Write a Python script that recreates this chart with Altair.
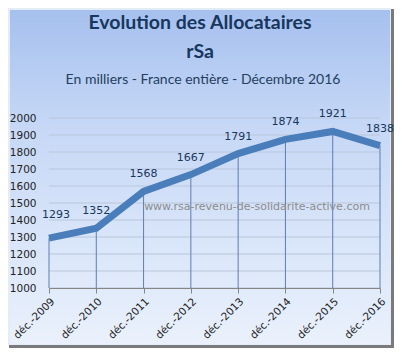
import altair as alt
import pandas as pd

years = ["déc.-2009", "déc.-2010", "déc.-2011", "déc.-2012", "déc.-2013", "déc.-2014", "déc.-2015", "déc.-2016"]
values = [1293, 1352, 1568, 1667, 1791, 1874, 1921, 1838]
y_ticks = [1000, 1100, 1200, 1300, 1400, 1500, 1600, 1700, 1800, 1900, 2000]

title_text = "Evolution  des Allocataires"
title_text2 = "rSa"
subtitle_text = "En milliers -  France entière -  Décembre 2016"
watermark = "www.rsa-revenu-de-solidarite-active.com"

df = pd.DataFrame({"annee": years, "valeur": values, "base": [1000] * len(years)})
grid_df = pd.DataFrame({"valeur": y_ticks})
one = alt.Data(values=[{"a": 1}])

W, H = 331, 170
LEFT, TOP, RIGHT, BOTTOM = 41, 110, 14, 60

xscale = alt.Scale(type="point", padding=0)
yscale = alt.Scale(domain=[1000, 2000], nice=False, zero=False)

xaxis = alt.Axis(labelAngle=-45, labelFont="DejaVu Sans", labelFontSize=10.5,
                 labelColor="#222222", domainColor="#868686", tickColor="#868686",
                 tickSize=5, grid=False, zindex=1, labelPadding=3)
yaxis = alt.Axis(values=y_ticks, format="d", labelOverlap=False,
                 labelFont="DejaVu Sans", labelFontSize=10.5,
                 labelColor="#222222", domain=False, ticks=False, grid=False,
                 zindex=1, labelPadding=13)

xenc = alt.X("annee:N", sort=years, scale=xscale, title=None, axis=xaxis)
yenc = alt.Y("valeur:Q", scale=yscale, title=None, axis=yaxis)

outer = alt.Chart(one).mark_rect(fill="#7a7a7a").encode(
    x=alt.value(-LEFT + 1), x2=alt.value(W + RIGHT),
    y=alt.value(-TOP + 1), y2=alt.value(H + BOTTOM))
bevel = alt.Chart(one).mark_rect(fill="#e4ecf8").encode(
    x=alt.value(-LEFT), x2=alt.value(W + RIGHT - 3),
    y=alt.value(-TOP), y2=alt.value(H + BOTTOM - 3))
bg = alt.Chart(one).mark_rect(
    fill=alt.Gradient(gradient="linear",
                      stops=[alt.GradientStop(color="#a6c0ee", offset=0),
                             alt.GradientStop(color="#c6d8f6", offset=0.35),
                             alt.GradientStop(color="#eaf1fc", offset=1)],
                      x1=0, x2=0, y1=0, y2=1)
).encode(x=alt.value(-LEFT + 2), x2=alt.value(W + RIGHT - 4),
         y=alt.value(-TOP + 2), y2=alt.value(H + BOTTOM - 4))

grid = alt.Chart(grid_df).mark_rule(color="#b9c6da", strokeWidth=1).encode(
    y=yenc, x=alt.value(0), x2=alt.value(W))

drops = alt.Chart(df).mark_rule(color="#5f7db0", strokeWidth=1).encode(
    x=xenc, y=yenc, y2="base:Q")

line = alt.Chart(df).mark_line(color="#4a7ebb", strokeWidth=7, strokeCap="butt").encode(
    x=xenc, y=yenc)

labels = alt.Chart(df).mark_text(font="DejaVu Sans", fontSize=11, color="#17375e",
                                 dy=-17, baseline="middle").encode(
    x=xenc, y=yenc, text=alt.Text("valeur:Q")
).transform_filter(alt.datum.annee != years[0])
label_first = alt.Chart(df).mark_text(font="DejaVu Sans", fontSize=11, color="#17375e",
                                      dy=-23, dx=7, baseline="middle").encode(
    x=xenc, y=yenc, text=alt.Text("valeur:Q")
).transform_filter(alt.datum.annee == years[0])

wm = alt.Chart(one).mark_text(text=watermark, font="DejaVu Sans", fontSize=11,
                              color="#8c8c8c", align="center", baseline="middle").encode(
    x=alt.value(208), y=alt.value(89))

t1 = alt.Chart(one).mark_text(text=title_text, font="Lato", fontSize=19.5, fontWeight="bold",
                              color="#17375e", align="center", baseline="middle").encode(
    x=alt.value(151), y=alt.value(-95))
t2 = alt.Chart(one).mark_text(text=title_text2, font="Lato", fontSize=19.5, fontWeight="bold",
                              color="#17375e", align="center", baseline="middle").encode(
    x=alt.value(151), y=alt.value(-66))
t3 = alt.Chart(one).mark_text(text=subtitle_text, font="Lato", fontSize=14,
                              color="#243f60", align="center", baseline="middle").encode(
    x=alt.value(154), y=alt.value(-38))

chart = alt.layer(outer, bevel, bg, grid, drops, line, labels, label_first, wm, t1, t2, t3).properties(
    width=W, height=H,
    padding={"left": LEFT, "top": TOP, "right": RIGHT, "bottom": BOTTOM},
    autosize="none",
).configure_view(stroke=None).configure(background="white")

chart.save("out.html", embed_options={"renderer": "svg", "actions": False})
